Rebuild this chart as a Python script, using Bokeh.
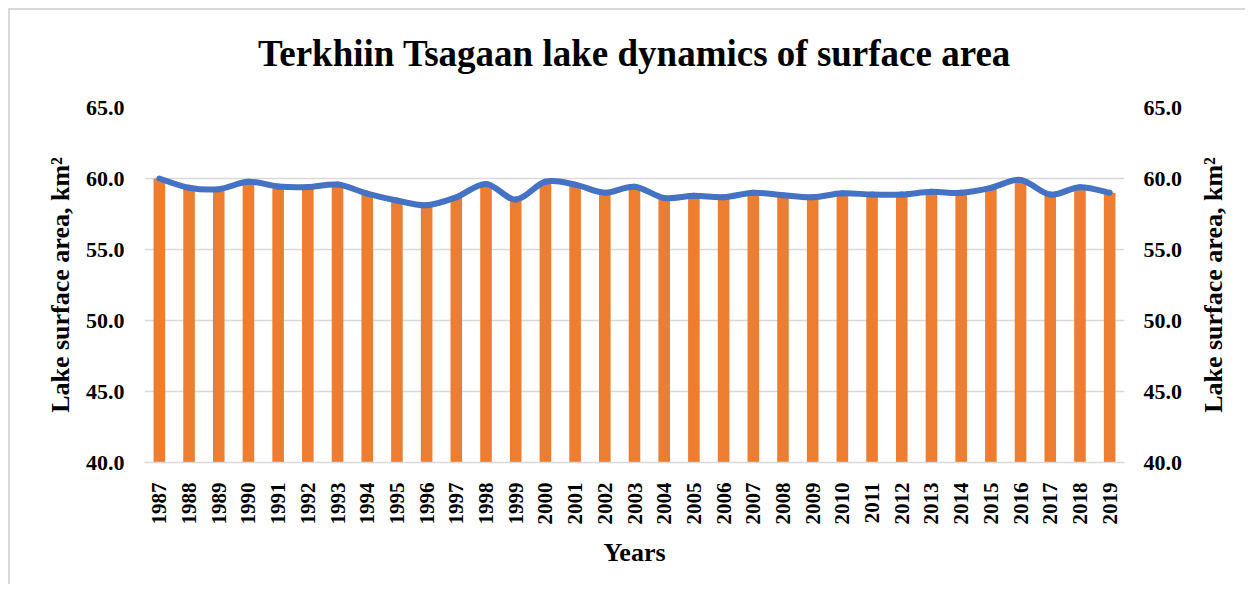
import math
from bokeh.plotting import figure
from bokeh.layouts import row
from bokeh.models import (Range1d, LinearAxis, FixedTicker, NumeralTickFormatter,
                          ColumnDataSource)
from bokeh.embed import file_html
from bokeh.resources import INLINE

years = [str(y) for y in range(1987, 2020)]
area = [60.0, 59.35, 59.25, 59.77, 59.44, 59.4, 59.57, 58.94, 58.45, 58.12, 58.68,
        59.62, 58.52, 59.77, 59.57, 59.0, 59.42, 58.63, 58.78, 58.68, 59.0, 58.82,
        58.68, 58.96, 58.87, 58.87, 59.06, 58.99, 59.34, 59.9, 58.87, 59.39, 59.0]
y_ticks = [40, 45, 50, 55, 60, 65]

TITLE = "Terkhiin Tsagaan lake dynamics of surface area"
YLABEL = "Lake surface area, km\u00b2"
XLABEL = "Years"

SERIF = "Liberation Serif"
ORANGE = "#ED7D31"
BLUE = "#4472C4"
GRID = "#d9d9d9"

xs = list(range(len(years)))
X0, X1 = -0.5, len(years) - 0.5
Y0, Y1 = 40, 65


def style_label(ax, size):
    ax.axis_label_text_font = SERIF
    ax.axis_label_text_font_style = "bold"
    ax.axis_label_text_font_size = size
    ax.axis_label_text_color = "black"


def bare_axis(ax):
    ax.ticker = FixedTicker(ticks=[])
    ax.major_tick_line_color = None
    ax.minor_tick_line_color = None
    ax.major_tick_out = 0
    ax.major_tick_in = 0
    ax.major_label_standoff = 0
    ax.axis_line_color = None


p = figure(width=1185, height=574, output_backend="svg", toolbar_location=None,
           x_range=Range1d(X0, X1), y_range=Range1d(Y0, Y1),
           min_border_left=134, min_border_right=71, min_border_top=97,
           min_border_bottom=122)
p.outline_line_color = None
p.background_fill_color = "white"
p.border_fill_color = "white"

# bars
src = ColumnDataSource(dict(x=xs, top=area))
p.vbar(x="x", top="top", bottom=0, width=0.39, source=src,
       fill_color=ORANGE, line_color=None)

# smoothed line (Bezier segments with Catmull-Rom control points, like Excel smoothing)
n = len(area)
x0, y0, x1, y1, cx0, cy0, cx1, cy1 = [], [], [], [], [], [], [], []
for i in range(n - 1):
    xp = xs[i - 1] if i > 0 else xs[i]
    yp = area[i - 1] if i > 0 else area[i]
    xn = xs[i + 2] if i + 2 < n else xs[i + 1]
    yn = area[i + 2] if i + 2 < n else area[i + 1]
    x0.append(xs[i]); y0.append(area[i])
    x1.append(xs[i + 1]); y1.append(area[i + 1])
    cx0.append(xs[i] + (xs[i + 1] - xp) / 6.0)
    cy0.append(area[i] + (area[i + 1] - yp) / 6.0)
    cx1.append(xs[i + 1] - (xn - xs[i]) / 6.0)
    cy1.append(area[i + 1] - (yn - area[i]) / 6.0)
bsrc = ColumnDataSource(dict(x0=x0, y0=y0, x1=x1, y1=y1, cx0=cx0, cy0=cy0, cx1=cx1, cy1=cy1))
p.bezier(x0="x0", y0="y0", x1="x1", y1="y1", cx0="cx0", cy0="cy0", cx1="cx1", cy1="cy1",
         source=bsrc, line_color=BLUE, line_width=6, line_cap="round")

# grid
p.xgrid.visible = False
p.ygrid.grid_line_color = GRID
p.ygrid.grid_line_width = 1.5
p.ygrid.ticker = FixedTicker(ticks=y_ticks)

# x axis (below)
xa = p.below[0]
xa.ticker = FixedTicker(ticks=xs)
xa.major_label_overrides = {i: y for i, y in enumerate(years)}
xa.major_label_orientation = math.pi / 2
xa.major_tick_line_color = None
xa.minor_tick_line_color = None
xa.axis_line_color = GRID
xa.axis_line_width = 1.5
xa.major_label_text_font = SERIF
xa.major_label_text_font_style = "bold"
xa.major_label_text_font_size = "21px"
xa.major_label_text_color = "black"
xa.major_label_standoff = 14
xa.axis_label = XLABEL
style_label(xa, "26px")
xa.axis_label_standoff = 10

# chart title as the label of a bare axis above the frame
ta = LinearAxis(axis_label=TITLE)
bare_axis(ta)
style_label(ta, "37px")
ta.axis_label_standoff = 34
p.add_layout(ta, "above")

# y axes (left and right, same scale)
p.extra_y_ranges = {"right": Range1d(Y0, Y1)}
ya = p.left[0]
ra = LinearAxis(y_range_name="right")
p.add_layout(ra, "right")
for ax, std in ((ya, 14), (ra, 13)):
    ax.ticker = FixedTicker(ticks=y_ticks)
    ax.formatter = NumeralTickFormatter(format="0.0")
    ax.major_tick_line_color = None
    ax.minor_tick_line_color = None
    ax.axis_line_color = None
    ax.major_label_text_font = SERIF
    ax.major_label_text_font_style = "bold"
    ax.major_label_text_font_size = "22px"
    ax.major_label_text_color = "black"
    ax.major_label_standoff = std
ya.axis_label = YLABEL
style_label(ya, "26px")
ya.axis_label_standoff = 8

# narrow strip on the right carrying the right-hand axis title (reads bottom to top)
p2 = figure(width=50, height=574, output_backend="svg", toolbar_location=None,
            x_range=Range1d(0, 1), y_range=Range1d(Y0, Y1),
            min_border_left=29, min_border_right=0, min_border_top=97,
            min_border_bottom=122)
p2.outline_line_color = None
p2.background_fill_color = "white"
p2.border_fill_color = "white"
p2.grid.visible = False
p2.xaxis.visible = False
ra2 = p2.yaxis[0]
bare_axis(ra2)
ra2.axis_label = YLABEL
style_label(ra2, "26px")
ra2.axis_label_standoff = 0

layout = row(p, p2)
layout.styles = {"border-top": "2px solid #d9d9d9", "border-left": "2px solid #d9d9d9",
                 "margin-left": "8px", "margin-top": "8px"}

open("out.html", "w").write(file_html(layout, INLINE))
